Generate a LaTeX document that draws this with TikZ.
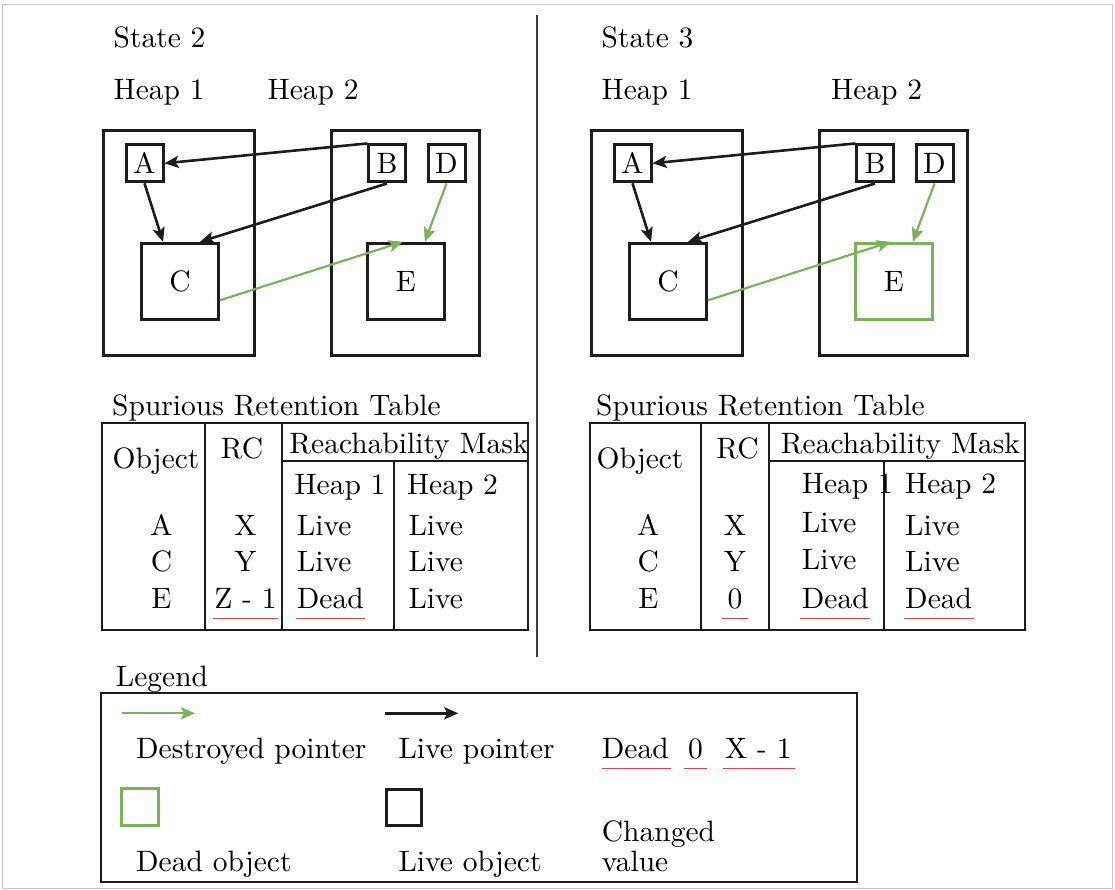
\documentclass[tikz,border=0pt]{standalone}
\usepackage{fontspec}
\setmainfont{lmroman10-regular}[Extension=.otf]
\usetikzlibrary{arrows.meta,calc}
\definecolor{deadgreen}{RGB}{122,178,92}
\definecolor{changered}{RGB}{204,76,88}
\definecolor{ink}{RGB}{28,28,28}
\tikzset{
  heapbox/.style={draw=ink, line width=3pt, inner sep=0pt},
  objbox/.style={draw=ink, line width=3pt, inner sep=0pt, minimum width=37pt, minimum height=37pt},
  bigbox/.style={objbox, minimum width=77pt, minimum height=76pt},
  deadbox/.style={draw=deadgreen},
  livearrow/.style={draw=ink, line width=2.6pt, -{Stealth[length=14pt,width=12pt,inset=3pt]}},
  deadarrow/.style={livearrow, draw=deadgreen, line width=2.2pt},
  txt/.style={inner sep=0pt, anchor=base west},
  ctxt/.style={inner sep=0pt, anchor=base},
  tablerule/.style={draw=ink, line width=2pt},
  redline/.style={draw=changered, line width=1.6pt},
}
% one state: two heaps with their objects and pointers
% #1 name prefix, #2 horizontal offset, #3 extra style of object E
\newcommand\heapdiagram[3]{%
  \begin{scope}[xshift=#2]
    \node[heapbox, minimum width=151pt, minimum height=224pt] (#1h1) at (178.7,243) {};
    \node[heapbox, minimum width=148pt, minimum height=224pt] (#1h2) at (405.3,243) {};
    \node[objbox] (#1A) at (144.5,163.3) {A};
    \node[objbox] (#1B) at (387,163.5) {B};
    \node[objbox] (#1D) at (446.5,163.5) {D};
    \node[bigbox] (#1C) at (180,281.3) {C};
    \node[bigbox,#3] (#1E) at (405.8,281.3) {E};
    \draw[livearrow] (#1B.north west) -- (#1A.east);
    \draw[livearrow] (#1A.south) -- ([xshift=-17pt]#1C.north);
    \draw[livearrow] (#1B.south) -- ([xshift=20pt]#1C.north);
    \draw[deadarrow] (#1D.south) -- ([xshift=19pt]#1E.north);
    \draw[deadarrow] ([yshift=-19pt]#1C.east) -- ([xshift=-3pt]#1E.north);
  \end{scope}}
\begin{document}
\begin{tikzpicture}[x=1pt,y=-1pt,font=\fontsize{29.5}{35}\selectfont]
\useasboundingbox (0,0) rectangle (1115,890);
% outer frame and divider between the two states
\draw[gray!45, line width=1pt] (2.5,5) rectangle (1112.5,888);
\draw[ink!85, line width=2pt] (536.7,15) -- (536.7,656.7);

% ---------- State 2 ----------
\node[txt] (st2) at (113.5,47.5) {State 2};
\node[txt] (st2h1) at (113.5,100) {Heap 1};
\node[txt] (st2h2) at (267.5,100) {Heap 2};
\heapdiagram{a}{0pt}{}

\node[txt] (t2title) at (112,415) {Spurious Retention Table};
\draw[tablerule] (102,423) rectangle (528,630);
\draw[tablerule] (205,423) -- (205,630) (282,423) -- (282,630)
                 (282,461) -- (528,461) (393.5,461) -- (393.5,630);
\node[ctxt] (t2obj) at (156,468.3) {Object};
\node[ctxt] (t2rc) at (242,458.3) {RC};
\node[ctxt] (t2mask) at (409,453.3) {Reachability Mask};
\node[ctxt] (t2hp1) at (340,494) {Heap 1};
\node[ctxt] (t2hp2) at (452.5,494) {Heap 2};
\node[ctxt] (t2o1) at (161.5,535) {A};
\node[ctxt] (t2o2) at (161.5,571.7) {C};
\node[ctxt] (t2o3) at (161.5,608.3) {E};
\node[ctxt] (t2r1) at (245.5,535) {X};
\node[ctxt] (t2r2) at (245.5,571.7) {Y};
\node[ctxt] (t2r3) at (245.5,608.3) {Z - 1};
\node[txt] (t2a1) at (296.7,535) {Live};
\node[txt] (t2a2) at (296.7,571.7) {Live};
\node[txt] (t2a3) at (296.7,608.3) {Dead};
\node[txt] (t2b1) at (408.3,535) {Live};
\node[txt] (t2b2) at (408.3,571.7) {Live};
\node[txt] (t2b3) at (408.3,608.3) {Live};
\draw[redline] ([xshift=-1pt,yshift=-10pt]t2r3.base west) -- ([xshift=1pt,yshift=-10pt]t2r3.base east);
\draw[redline] ([xshift=-1pt,yshift=-10pt]t2a3.base west) -- ([xshift=1pt,yshift=-10pt]t2a3.base east);

% ---------- State 3 ----------
\node[txt] (st3) at (601.5,47.5) {State 3};
\node[txt] (st3h1) at (601.5,100) {Heap 1};
\node[txt] (st3h2) at (831,100) {Heap 2};
\heapdiagram{b}{488pt}{deadbox}

\node[txt] (t3title) at (596,415) {Spurious Retention Table};
\draw[tablerule] (590,423.3) rectangle (1025,630);
\draw[tablerule] (700.7,423.3) -- (700.7,630) (769,423.3) -- (769,630)
                 (769,460.7) -- (1025,460.7) (884,460.7) -- (884,630);
\node[ctxt] (t3obj) at (640,468) {Object};
\node[ctxt] (t3rc) at (737.5,458) {RC};
\node[ctxt] (t3mask) at (900.5,453) {Reachability Mask};
\node[txt] (t3hp1) at (801.7,493) {Heap 1};
\node[txt] (t3hp2) at (905,493) {Heap 2};
\node[ctxt] (t3o1) at (648.3,535) {A};
\node[ctxt] (t3o2) at (648.3,571.7) {C};
\node[ctxt] (t3o3) at (648.3,608.3) {E};
\node[ctxt] (t3r1) at (735,535) {X};
\node[ctxt] (t3r2) at (735,571.7) {Y};
\node[ctxt] (t3r3) at (735,608.3) {0};
\node[txt] (t3a1) at (801.7,532) {Live};
\node[txt] (t3a2) at (801.7,569.5) {Live};
\node[txt] (t3a3) at (801.7,608.3) {Dead};
\node[txt] (t3b1) at (905,535) {Live};
\node[txt] (t3b2) at (905,571.7) {Live};
\node[txt] (t3b3) at (905,608.3) {Dead};
\draw[redline] ([xshift=-5pt,yshift=-10pt]t3r3.base west) -- ([xshift=5pt,yshift=-10pt]t3r3.base east);
\draw[redline] ([xshift=-1.5pt,yshift=-10pt]t3a3.base west) -- ([xshift=1.5pt,yshift=-10pt]t3a3.base east);
\draw[redline] ([xshift=-1.5pt,yshift=-10pt]t3b3.base west) -- ([xshift=1.5pt,yshift=-10pt]t3b3.base east);

% ---------- Legend ----------
\node[txt] (legtitle) at (115.7,686) {Legend};
\draw[tablerule] (101,693.3) rectangle (856.7,882.3);
\coordinate (g0) at (121.7,713.3);
\coordinate (g1) at (195,713.3);
\coordinate (k0) at (385,713.3);
\coordinate (k1) at (458.3,713.3);
\draw[deadarrow] (g0) -- (g1);
\draw[livearrow] (k0) -- (k1);
\node[txt] (ldestroyed) at (136,758) {Destroyed pointer};
\node[txt] (llivep) at (398.3,758) {Live pointer};
\node[txt] (ldead) at (601.7,758) {Dead};
\node[txt] (lzero) at (688,758) {0};
\node[txt] (lxm) at (725,758) {X - 1};
\draw[redline] ([yshift=-10.3pt]ldead.base west) -- ([xshift=2pt,yshift=-10.3pt]ldead.base east);
\draw[redline] ([xshift=-4pt,yshift=-10.3pt]lzero.base west) -- ([xshift=4pt,yshift=-10.3pt]lzero.base east);
\draw[redline] ([xshift=-2pt,yshift=-10.3pt]lxm.base west) -- ([xshift=3pt,yshift=-10.3pt]lxm.base east);
\node[objbox, deadbox] (ldeadobj) at (140,806.7) {};
\node[objbox, minimum width=35.3pt, minimum height=35.7pt] (lliveobj) at (404.2,807.3) {};
\node[txt] (ldeadtxt) at (136,871.5) {Dead object};
\node[txt] (llivetxt) at (398.3,871.5) {Live object};
\node[txt] (lchanged) at (601.7,841.7) {Changed};
\node[txt] (lvalue) at (601.7,871.5) {value};
\end{tikzpicture}
\end{document}
